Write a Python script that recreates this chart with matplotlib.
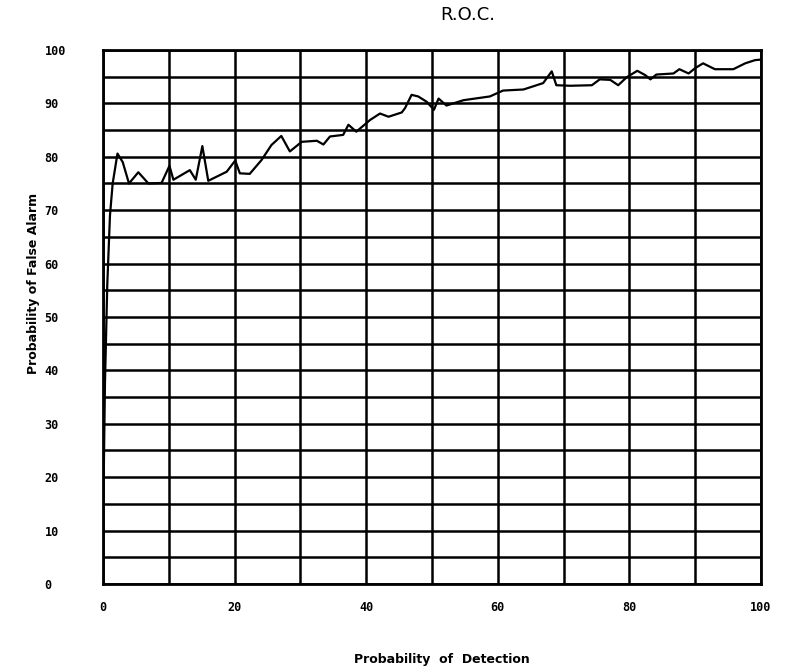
import numpy as np
import matplotlib.pyplot as plt

# 曲线数据
p_detect = [0.0, 0.0, 0.1, 0.3, 0.65, 1.06, 1.47, 2.2, 3.0, 3.95, 5.37, 6.9, 8.9,
            10.1, 10.7, 13.2, 14.1, 15.1, 16.0, 18.8, 20.1, 20.8, 22.3, 24.1,
            25.6, 27.1, 28.4, 30.2, 32.5, 33.5, 34.5, 36.5, 37.3, 38.5, 40.6,
            42.1, 43.4, 45.4, 45.9, 46.9, 47.9, 49.2, 50.3, 51.0, 52.2, 54.8,
            58.8, 60.8, 63.9, 66.9, 68.2, 68.9, 71.0, 74.3, 75.5, 77.1, 78.3,
            79.6, 81.2, 82.4, 83.2, 84.1, 86.7, 87.6, 89.0, 90.0, 91.2, 93.0,
            95.8, 97.6, 99.1, 100.0]
p_false = [0.0, 10.0, 19.0, 37.6, 56.0, 69.0, 75.0, 80.6, 79.0, 75.0, 77.1, 75.0, 75.1,
           78.3, 75.7, 77.5, 75.7, 82.0, 75.5, 77.2, 79.3, 76.9, 76.8, 79.4,
           82.2, 83.9, 81.0, 82.8, 83.0, 82.3, 83.8, 84.1, 86.0, 84.7, 86.9,
           88.1, 87.5, 88.3, 89.1, 91.6, 91.3, 90.3, 88.8, 90.9, 89.6, 90.6,
           91.3, 92.4, 92.6, 93.8, 96.0, 93.4, 93.3, 93.4, 94.5, 94.4, 93.4,
           94.9, 96.1, 95.3, 94.5, 95.4, 95.6, 96.4, 95.6, 96.6, 97.5, 96.4,
           96.4, 97.5, 98.1, 98.2]

x_ticks = [0, 20, 40, 60, 80, 100]
y_ticks = [0, 10, 20, 30, 40, 50, 60, 70, 80, 90, 100]

fig = plt.figure(figsize=(7.88, 6.70), dpi=100)
ax = fig.add_axes([0.1307, 0.1284, 0.835, 0.797])

ax.set_xlim(0, 100)
ax.set_ylim(0, 100)
ax.set_xticks(np.arange(0, 101, 10), minor=True)
ax.set_yticks(np.arange(0, 101, 5), minor=True)
ax.set_xticks(x_ticks)
ax.set_yticks(y_ticks)
ax.grid(True, which='both', color='black', linewidth=1.8)
ax.set_axisbelow(True)

ax.plot(p_detect, p_false, color='black', linewidth=1.6)

ax.set_xticklabels([str(t) for t in x_ticks], fontweight='bold', fontsize=8.5,
                   family='DejaVu Sans Mono')
ax.set_yticklabels([str(t) for t in y_ticks], fontweight='bold', fontsize=8.5,
                   family='DejaVu Sans Mono', ha='left')
ax.tick_params(which='both', length=0)
ax.tick_params(axis='x', pad=12)
ax.tick_params(axis='y', pad=42)
for s in ax.spines.values():
    s.set_linewidth(2)

fig.text(0.593, 0.978, 'R.O.C.', ha='center', va='center', fontsize=13)
fig.text(0.561, 0.015, 'Probability  of  Detection', ha='center', va='center',
         fontsize=9, fontweight='bold')
fig.text(0.042, 0.577, 'Probability of False Alarm', ha='center', va='center',
         rotation=90, fontsize=9, fontweight='bold')

plt.savefig('out.png', dpi=100)
